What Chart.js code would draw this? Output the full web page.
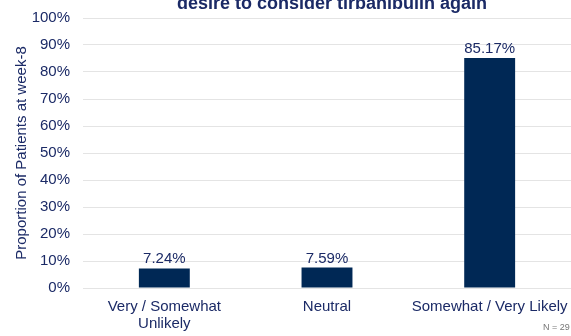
<!DOCTYPE html>
<html>
<head>
<meta charset="utf-8">
<script src="https://cdn.jsdelivr.net/npm/chart.js@4/dist/chart.umd.min.js"></script>
<style>
  html, body { margin: 0; padding: 0; background: #fff; }
  #wrap { width: 571px; height: 336px; }
</style>
</head>
<body>
<div id="wrap"><canvas id="chart" width="571" height="336"></canvas></div>
<script>
// データ
const categories = [['Very / Somewhat', 'Unlikely'], 'Neutral', 'Somewhat / Very Likely'];
const proportions = [7.24, 7.59, 85.17];
const valueLabels = ['7.24%', '7.59%', '85.17%'];
const titleText = 'desire to consider tirbanibulin again';
const yTitleText = 'Proportion of Patients at week-8';
const noteText = 'N = 29';

const navy = '#002855';
const textNavy = '#1b2a66';
const font = 'Arial, "Liberation Sans", sans-serif';

// タイトル・軸タイトル・注記を描くプラグイン
const extrasPlugin = {
    id: 'extras',
    afterDraw(chart) {
        const ctx = chart.ctx;
        ctx.save();
        ctx.fillStyle = textNavy;
        ctx.font = 'bold 18px ' + font;
        ctx.textAlign = 'center';
        ctx.textBaseline = 'alphabetic';
        ctx.fillText(titleText, 332, 9);

        // 縦軸タイトル
        ctx.save();
        ctx.translate(22, (chart.chartArea.top + chart.chartArea.bottom) / 2);
        ctx.rotate(-Math.PI / 2);
        ctx.font = '15px ' + font;
        ctx.textBaseline = 'middle';
        ctx.fillText(yTitleText, 0, 0);
        ctx.restore();

        ctx.fillStyle = '#777';
        ctx.font = '9px ' + font;
        ctx.textAlign = 'left';
        ctx.textBaseline = 'middle';
        ctx.fillText(noteText, 543, 328);
        ctx.restore();
    }
};

// 棒の上の数値ラベル
const valueLabelPlugin = {
    id: 'valueLabels',
    afterDatasetsDraw(chart) {
        const ctx = chart.ctx;
        const meta = chart.getDatasetMeta(0);
        ctx.save();
        ctx.fillStyle = textNavy;
        ctx.font = '15px ' + font;
        ctx.textAlign = 'center';
        ctx.textBaseline = 'alphabetic';
        meta.data.forEach((bar, i) => {
            ctx.fillText(valueLabels[i], bar.x, bar.y - 5);
        });
        ctx.restore();
    }
};

new Chart(document.getElementById('chart'), {
    type: 'bar',
    data: {
        labels: categories,
        datasets: [{
            data: proportions,
            backgroundColor: navy,
            barPercentage: 0.313,
            categoryPercentage: 1.0
        }]
    },
    options: {
        responsive: false,
        animation: false,
        layout: { padding: { top: 18, right: 0, left: 0, bottom: 0 } },
        plugins: {
            legend: { display: false },
            tooltip: { enabled: false }
        },
        scales: {
            y: {
                min: 0,
                max: 100,
                afterFit: scale => {
                    scale.width = 83;
                    scale.paddingTop = 0;
                    scale.paddingBottom = 0;
                },
                ticks: {
                    stepSize: 10,
                    color: textNavy,
                    font: { family: font, size: 15 },
                    callback: v => v + '%',
                    padding: 13
                },
                grid: { color: '#e4e4e4', drawTicks: false },
                border: { display: false }
            },
            x: {
                afterFit: scale => {
                    scale.height = 48;
                    scale.paddingLeft = 0;
                    scale.paddingRight = 0;
                },
                ticks: {
                    color: textNavy,
                    font: { family: font, size: 15, lineHeight: 1.15 },
                    maxRotation: 0,
                    autoSkip: false,
                    padding: 10
                },
                grid: { display: false, drawTicks: false },
                border: { display: false }
            }
        }
    },
    plugins: [extrasPlugin, valueLabelPlugin]
});
</script>
</body>
</html>
